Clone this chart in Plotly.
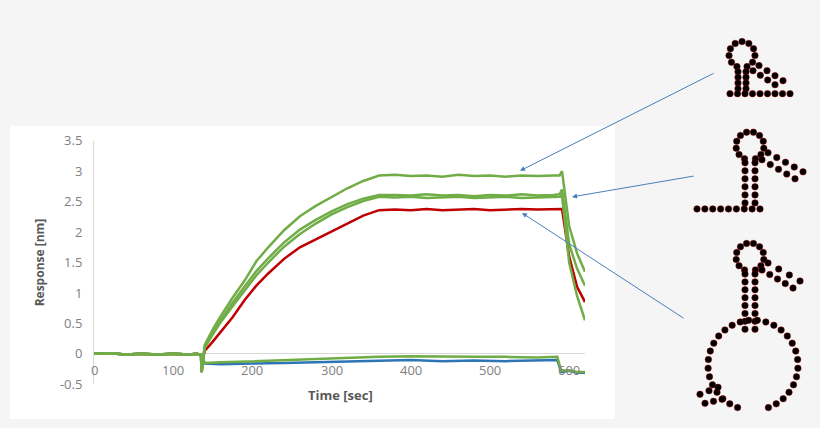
import plotly.graph_objects as go
import numpy as np

# ---- data ----
t_base = [0, 20, 40, 60, 80, 100, 120, 130, 135]
v_base = [0.0, 0.01, -0.01, 0.0, -0.01, 0.0, -0.01, 0.0, -0.02]
t_dip = [136, 138]
v_dip = [-0.3, -0.05]
t_assoc = [140, 150, 160, 175, 190, 205, 220, 240, 260, 280, 300, 320, 340, 360]
t_plat = [380, 400, 420, 440, 460, 480, 500, 520, 540, 560, 580, 588]
t_diss = [591, 600, 610, 620]

green1_assoc = [0.15, 0.4, 0.62, 0.92, 1.2, 1.52, 1.75, 2.03, 2.26, 2.43, 2.58, 2.72, 2.84, 2.93]
green1_plat = [2.94, 2.92, 2.93, 2.91, 2.94, 2.92, 2.93, 2.91, 2.93, 2.92, 2.93, 2.93]
green1_diss = [3.0, 2.1, 1.65, 1.35]

green2_assoc = [0.12, 0.36, 0.56, 0.84, 1.1, 1.36, 1.57, 1.83, 2.04, 2.2, 2.34, 2.46, 2.55, 2.61]
green2_plat = [2.61, 2.6, 2.62, 2.6, 2.61, 2.59, 2.61, 2.6, 2.62, 2.6, 2.61, 2.62]
green2_diss = [2.7, 1.8, 1.4, 1.12]

green3_assoc = [0.1, 0.32, 0.52, 0.78, 1.03, 1.29, 1.5, 1.76, 1.97, 2.14, 2.29, 2.41, 2.51, 2.58]
green3_plat = [2.57, 2.58, 2.56, 2.57, 2.58, 2.56, 2.57, 2.58, 2.56, 2.57, 2.58, 2.58]
green3_diss = [2.6, 1.5, 0.95, 0.55]

red_assoc = [0.05, 0.2, 0.36, 0.6, 0.88, 1.12, 1.32, 1.56, 1.75, 1.88, 2.02, 2.15, 2.27, 2.36]
red_plat = [2.37, 2.36, 2.38, 2.36, 2.37, 2.38, 2.36, 2.37, 2.38, 2.37, 2.37, 2.38]
red_diss = [2.38, 1.6, 1.1, 0.85]

t_low = [140, 160, 180, 200, 240, 280, 320, 360, 400, 440, 480, 520, 560, 585, 590, 600, 610, 620]
green_low = [-0.15, -0.14, -0.13, -0.12, -0.1, -0.08, -0.07, -0.05, -0.04, -0.05, -0.05, -0.05, -0.06, -0.05, -0.28, -0.27, -0.3, -0.3]
blue_low = [-0.16, -0.17, -0.16, -0.16, -0.15, -0.14, -0.12, -0.11, -0.1, -0.12, -0.11, -0.12, -0.11, -0.1, -0.3, -0.28, -0.31, -0.31]

x_ticks = [0, 100, 200, 300, 400, 500, 600]
y_ticks = [-0.5, 0, 0.5, 1, 1.5, 2, 2.5, 3, 3.5]

GREEN = "#70ad47"
RED = "#c00000"
BLUE = "#2e75b6"

H = 428.0
def cy(y):  # empirical vertical correction for the capture
    return (y - 8.5) / 0.956
def pf(y):  # paper fraction for a pixel row
    return min(1.0, max(0.0, 1 - cy(y) / H))

fig = go.Figure()

def full(assoc, plat, diss):
    t = t_base + t_dip + t_assoc + t_plat + t_diss
    v = v_base + v_dip + assoc + plat + diss
    return t, v

t_b = t_base + t_low
fig.add_trace(go.Scatter(x=t_b, y=v_base + blue_low, mode="lines", line=dict(color=BLUE, width=2.5)))
fig.add_trace(go.Scatter(x=t_b, y=v_base + green_low, mode="lines", line=dict(color=GREEN, width=2.5)))
for a, p, d, c in [(red_assoc, red_plat, red_diss, RED),
                   (green3_assoc, green3_plat, green3_diss, GREEN),
                   (green2_assoc, green2_plat, green2_diss, GREEN),
                   (green1_assoc, green1_plat, green1_diss, GREEN)]:
    t, v = full(a, p, d)
    fig.add_trace(go.Scatter(x=t, y=v, mode="lines", line=dict(color=c, width=2.5)))

for xt in x_ticks:
    fig.add_annotation(x=xt, y=-0.27, text=str(xt), showarrow=False,
                       font=dict(size=13, color="#7f7f7f", family="Open Sans"))

# ---- RNA structure decorations ----
def loop(cx, cyy, r, n, gap=0.0):
    a = np.linspace(gap, 2 * np.pi - gap, n) - np.pi / 2
    return list(cx + r * np.cos(a)), list(cyy - r * np.sin(a))

def line_pts(x0, y0, x1, y1, n):
    return list(np.linspace(x0, x1, n)), list(np.linspace(y0, y1, n))

xs, ys = [], []
def add(p):
    xs.extend(p[0]); ys.extend(p[1])

add(loop(742, 54, 13, 11, 0.4))
add(line_pts(738, 71, 738, 88, 4)); add(line_pts(746, 71, 746, 88, 4))
add(line_pts(753, 70, 775, 84, 4)); add(line_pts(759, 65, 783, 80, 4))
add(line_pts(730, 93, 790, 93, 9))
add(loop(750, 145, 14, 12, 0.4))
add(line_pts(745, 162, 745, 202, 6)); add(line_pts(755, 162, 755, 202, 6))
add(line_pts(762, 159, 795, 178, 5)); add(line_pts(768, 152, 803, 171, 5))
add(line_pts(697, 208, 760, 208, 9))
add(loop(750, 256, 14, 12, 0.4))
add(line_pts(745, 273, 745, 328, 8)); add(line_pts(755, 273, 755, 328, 8))
add(line_pts(762, 269, 793, 287, 5)); add(line_pts(768, 262, 800, 280, 4))
add(loop(753, 364, 45, 30, 0.35))
add(line_pts(700, 393, 718, 386, 3)); add(line_pts(705, 402, 722, 398, 3))
fig.add_trace(go.Scatter(x=xs, y=[cy(v) for v in ys], xaxis="x2", yaxis="y2", mode="markers",
                         marker=dict(color="black", size=6.5, line=dict(color="#8b0000", width=0.5))))

for (x0, y0, x1, y1) in [(715, 72, 520, 170), (695, 175, 572, 196), (685, 318, 522, 212)]:
    fig.add_annotation(x=x1, y=cy(y1), ax=x0, ay=cy(y0), xref="x2", yref="y2", axref="x2", ayref="y2",
                       showarrow=True, arrowhead=2, arrowsize=1, arrowwidth=1, arrowcolor="#4a7ebb", text="")

fig.add_shape(type="rect", xref="paper", yref="paper", x0=10 / 820, x1=615 / 820,
              y0=pf(420), y1=pf(125), fillcolor="white", line=dict(width=0), layer="below")

fig.update_layout(
    width=820, height=428, margin=dict(l=0, r=0, t=0, b=0),
    paper_bgcolor="#f5f5f5", plot_bgcolor="rgba(0,0,0,0)", showlegend=False,
    font=dict(family="Open Sans", color="#595959"),
    xaxis=dict(domain=[94 / 820, 585 / 820], range=[0, 620], showticklabels=False, showgrid=False,
               zeroline=False, showline=False, ticks=""),
    yaxis=dict(domain=[pf(383), pf(140)], range=[-0.5, 3.5], tickvals=y_ticks,
               ticktext=[str(v) for v in y_ticks], showgrid=False, zeroline=True, zerolinecolor="#d9d9d9",
               zerolinewidth=1, showline=True, linecolor="#d9d9d9", tickfont=dict(size=13, color="#7f7f7f"),
               ticklabelstandoff=8,
               title=dict(text="<b>Response [nm]</b>", font=dict(size=12, color="#595959"), standoff=12)),
    xaxis2=dict(domain=[0, 1], range=[0, 820], visible=False, anchor="y2"),
    yaxis2=dict(domain=[0, 1], range=[H, 0], visible=False, anchor="x2"),
)
fig.add_annotation(xref="x2", yref="y2", x=340, y=cy(394), text="<b>Time [sec]</b>", showarrow=False,
                   font=dict(size=13, color="#595959"))
fig.write_html("out.html", config=dict(displayModeBar=False, responsive=False),
               post_script="document.body.style.margin='0';document.body.style.padding='0';"
                           "document.body.style.overflow='hidden';")
